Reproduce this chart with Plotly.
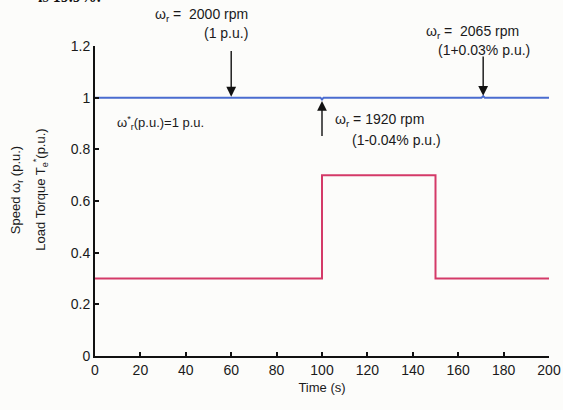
import plotly.graph_objects as go

# Data
torque_time = [0, 100, 100, 150, 150, 200]
torque_vals = [0.3, 0.3, 0.7, 0.7, 0.3, 0.3]

speed_time = [0, 99.3, 100, 100.7, 170.3, 171, 171.7, 200]
speed_vals = [1.0, 1.0, 0.993, 1.0, 1.0, 1.006, 1.0, 1.0]

x_ticks = [0, 20, 40, 60, 80, 100, 120, 140, 160, 180, 200]
y_ticks = [0, 0.2, 0.4, 0.6, 0.8, 1.0, 1.2]

BLUE = "#4a6cd0"
RED = "#d43a68"
FONT = "Liberation Sans, Arial, sans-serif"
TXT = "#1a1a1a"

fig = go.Figure()
fig.add_trace(go.Scatter(x=torque_time, y=torque_vals, mode="lines",
                         line=dict(color=RED, width=2), showlegend=False))
fig.add_trace(go.Scatter(x=speed_time, y=speed_vals, mode="lines",
                         line=dict(color=BLUE, width=2), showlegend=False))

annotations = []

def arrow(x, y_tail, y_head):
    annotations.append(dict(x=x, y=y_head, ax=x, ay=y_tail, xref="x", yref="y",
                            axref="x", ayref="y", text="", showarrow=True,
                            arrowhead=2, arrowsize=1.4, arrowwidth=1.4,
                            arrowcolor="#111111", standoff=0))

def label(x, y, text, xanchor="left", size=14):
    annotations.append(dict(x=x, y=y, xref="paper", yref="paper", text=text, showarrow=False,
                            xanchor=xanchor, yanchor="middle",
                            font=dict(family=FONT, size=size, color=TXT)))

# paper coords: x=(px-95)/454, y=(356-py)/310
arrow(60, 1.186, 1.004)
arrow(100, 0.846, 0.987)
arrow(171, 1.165, 1.007)

label(0.128, 1.10, "ω<sub>r</sub> =  2000 rpm")
label(0.288, 1.042, "(1 p.u.)", xanchor="center")
label(0.725, 1.045, "ω<sub>r</sub> =  2065 rpm")
label(0.751, 0.987, "(1+0.03% p.u.)")
label(0.044, 0.752, "ω<sup>*</sup><sub>r</sub>(p.u.)=1 p.u.", size=13)
label(0.524, 0.761, "ω<sub>r</sub> = 1920 rpm")
label(0.562, 0.697, "(1-0.04% p.u.)")

# y-axis titles (two lines)
annotations.append(dict(x=-0.174, y=0.535, xref="paper", yref="paper", textangle=-90,
                        xanchor="center", yanchor="middle",
                        text="Speed ω<sub>r</sub> (p.u.)", showarrow=False,
                        font=dict(family=FONT, size=13, color=TXT)))
annotations.append(dict(x=-0.12, y=0.535, xref="paper", yref="paper", textangle=-90,
                        xanchor="center", yanchor="middle",
                        text="Load Torque T<sub>e</sub><sup>*</sup>(p.u.)", showarrow=False,
                        font=dict(family=FONT, size=13, color=TXT)))
# cropped page text at top
annotations.append(dict(x=-0.13, y=1.16, xref="paper", yref="paper", text="<b>is 19.9%.</b>",
                        showarrow=False, xanchor="left", yanchor="middle",
                        font=dict(family="Liberation Serif, serif", size=16, color="#111")))

fig.update_layout(
    width=563, height=410,
    margin=dict(l=95, r=14, t=46, b=54),
    paper_bgcolor="#fcfcfa", plot_bgcolor="#fcfcfa",
    font=dict(family=FONT, size=14, color=TXT),
    annotations=annotations,
    xaxis=dict(range=[0, 200], tickvals=x_ticks, ticks="inside", ticklen=4, tickwidth=2,
               tickcolor="#111", showline=True, linecolor="#111", linewidth=2,
               showgrid=False, zeroline=False, mirror=False, automargin=False,
               tickfont=dict(size=14),
               title=dict(text="Time (s)", font=dict(size=13), standoff=6)),
    yaxis=dict(range=[0, 1.2], tickvals=y_ticks, ticks="inside", ticklen=4, tickwidth=2,
               tickcolor="#111", showline=True, linecolor="#111", linewidth=2,
               showgrid=False, zeroline=False, mirror=False, automargin=False,
               tickfont=dict(size=14)),
)

fig.write_html("out.html")
